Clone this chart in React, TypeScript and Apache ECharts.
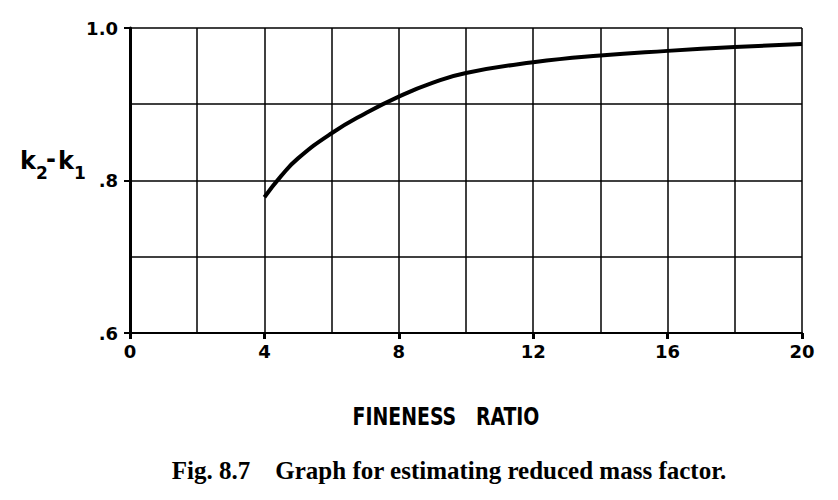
import React, { useEffect, useRef } from "react";
import * as echarts from "echarts";

const fineness = [4, 4.5, 5, 6, 7, 8, 9, 10, 12, 14, 16, 18, 20];
const k2k1 = [0.778, 0.806, 0.829, 0.862, 0.888, 0.91, 0.928, 0.941, 0.955, 0.964, 0.97, 0.975, 0.979];
const xTicks = [0, 4, 8, 12, 16, 20];
const yTickLabels: Record<string, string> = { "0.6": ".6", "0.8": ".8", "1": "1.0" };

export default function App() {
  const ref = useRef<HTMLDivElement>(null);
  useEffect(() => {
    if (!ref.current) return;
    const chart = echarts.init(ref.current, undefined, { renderer: "svg" });
    const lbl = { color: "#000", fontFamily: "DejaVu Sans", fontWeight: "bold" as const, fontSize: 18 };
    const kStyle = { fontFamily: "DejaVu Sans", fontWeight: "bold" as const, fontSize: 24, fill: "#000" };
    const sStyle = { fontFamily: "DejaVu Sans", fontWeight: "bold" as const, fontSize: 17, fill: "#000" };
    chart.setOption({
      animation: false,
      backgroundColor: "#fff",
      grid: { left: 130, right: 36, top: 28, bottom: 167, containLabel: false },
      xAxis: {
        type: "value",
        min: xTicks[0],
        max: xTicks[xTicks.length - 1],
        interval: 4,
        axisLine: { show: true, onZero: false, lineStyle: { color: "#000", width: 2 } },
        axisTick: { show: true, length: 6, lineStyle: { color: "#000", width: 3 } },
        axisLabel: { ...lbl, margin: 18, verticalAlign: "middle" },
        splitLine: { show: true, lineStyle: { color: "#000", width: 1.5 } },
        minorTick: { show: false, splitNumber: 2 },
        minorSplitLine: { show: true, lineStyle: { color: "#000", width: 1.5 } },
      },
      yAxis: {
        type: "value",
        min: 0.6,
        max: 1.0,
        interval: 0.2,
        axisLine: { show: true, onZero: false, lineStyle: { color: "#000", width: 3 } },
        axisTick: { show: true, length: 6, lineStyle: { color: "#000", width: 2 } },
        axisLabel: {
          ...lbl,
          margin: 12,
          formatter: (v: number) => yTickLabels[String(Math.round(v * 10) / 10)] ?? "",
        },
        splitLine: { show: true, lineStyle: { color: "#000", width: 1.5 } },
        minorTick: { show: false, splitNumber: 2 },
        minorSplitLine: { show: true, lineStyle: { color: "#000", width: 1.5 } },
      },
      series: [
        {
          type: "line",
          data: fineness.map((x, i) => [x, k2k1[i]]),
          smooth: 0.5,
          symbol: "none",
          lineStyle: { color: "#000", width: 4 },
        },
      ],
      graphic: [
        { type: "text", x: 20, y: 173, style: { ...kStyle, text: "k", verticalAlign: "bottom" } },
        { type: "text", x: 36, y: 181, style: { ...sStyle, text: "2", verticalAlign: "bottom" } },
        { type: "text", x: 46, y: 171, style: { ...kStyle, text: "-", verticalAlign: "bottom" } },
        { type: "text", x: 58, y: 173, style: { ...kStyle, text: "k", verticalAlign: "bottom" } },
        { type: "text", x: 74, y: 181, style: { ...sStyle, text: "1", verticalAlign: "bottom" } },
        {
          type: "text",
          x: 446,
          y: 416,
          scaleY: 1.2,
          style: {
            text: "FINENESS   RATIO",
            fontFamily: "DejaVu Sans Condensed",
            fontWeight: "bold",
            fontSize: 21,
            fill: "#000",
            align: "center",
            verticalAlign: "middle",
          },
        },
        {
          type: "text",
          x: 449,
          y: 470,
          style: {
            text: "Fig. 8.7    Graph for estimating reduced mass factor.",
            fontFamily: "Liberation Serif",
            fontWeight: "bold",
            fontSize: 25,
            fill: "#000",
            align: "center",
            verticalAlign: "middle",
          },
        },
      ],
    });
    return () => chart.dispose();
  }, []);
  return (
    <div
      ref={ref}
      style={{ position: "fixed", left: 0, top: 0, width: 838, height: 500, background: "#fff" }}
    />
  );
}
